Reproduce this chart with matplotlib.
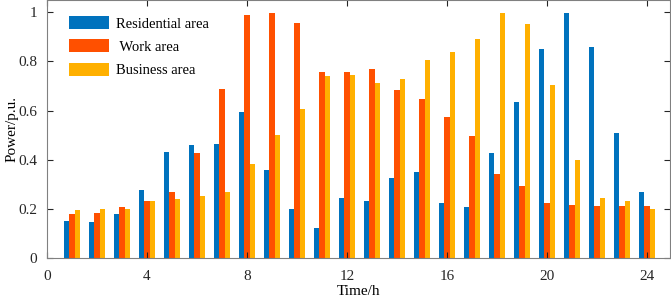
import numpy as np
import matplotlib.pyplot as plt

plt.rcParams['font.family'] = ['Liberation Serif', 'DejaVu Serif']

hours = np.arange(1, 25)
residential = [0.149, 0.145, 0.178, 0.278, 0.432, 0.461, 0.465, 0.594, 0.358, 0.199, 0.123, 0.245,
               0.234, 0.325, 0.348, 0.224, 0.209, 0.428, 0.636, 0.850, 0.999, 0.859, 0.509, 0.270]
work = [0.180, 0.184, 0.209, 0.233, 0.270, 0.428, 0.687, 0.989, 0.999, 0.958, 0.759, 0.756,
        0.768, 0.683, 0.646, 0.572, 0.496, 0.343, 0.293, 0.224, 0.217, 0.213, 0.210, 0.210]
business = [0.195, 0.198, 0.200, 0.230, 0.240, 0.251, 0.270, 0.383, 0.500, 0.607, 0.741, 0.744,
            0.713, 0.730, 0.805, 0.839, 0.890, 0.999, 0.953, 0.703, 0.397, 0.245, 0.230, 0.199]
names = ['Residential area', ' Work area', 'Business area']
colors = ['#0072BD', '#FF5000', '#FFB000']

fig = plt.figure(figsize=(6.71, 2.98), dpi=100)
ax = fig.add_axes([47/671, 40/298, 623/671, 258/298])

w = 0.22
for k, (vals, nm, c) in enumerate(zip([residential, work, business], names, colors)):
    ax.bar(hours + (k - 1) * w, vals, w, color=c, label=nm)

ax.set_xlim(0, 24.93)
ax.set_ylim(0, 1.05)
ax.set_xticks([0, 4, 8, 12, 16, 20, 24])
ax.set_yticks([0, 0.2, 0.4, 0.6, 0.8, 1])
ax.set_yticklabels(['0', '0.2', '0.4', '0.6', '0.8', '1'])
ax.tick_params(direction='in', top=True, right=True, labelsize=11, colors='#262626', length=4)
ax.tick_params(axis='x', pad=9)
ax.tick_params(axis='y', pad=7)
for s in ax.spines.values():
    s.set_color('#808080')
ax.set_xlabel('Time/h', fontsize=11, labelpad=1)
ax.set_ylabel('Power/p.u.', fontsize=11, labelpad=0)

ax.legend(loc='upper left', bbox_to_anchor=(0.01, 1.0), frameon=False, fontsize=10.5,
          handlelength=2.75, handleheight=1.0, handletextpad=0.45, labelspacing=0.6,
          borderaxespad=0.7)

fig.savefig('out.png', dpi=100)
